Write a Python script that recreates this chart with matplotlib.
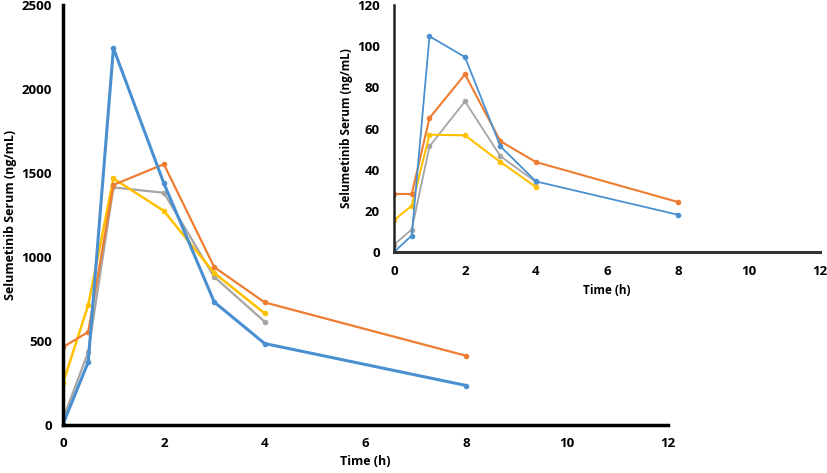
import matplotlib.pyplot as plt

time = [0, 0.5, 1, 2, 3, 4, 8]
time_short = [0, 0.5, 1, 2, 3, 4]

# main panel (ng/mL)
blue_main = [5, 375, 2244, 1440, 732, 485, 235]
orange_main = [464, 554, 1430, 1553, 940, 730, 412]
gray_main = [35, 435, 1415, 1383, 882, 615]
yellow_main = [250, 714, 1468, 1275, 905, 665]

# inset panel (ng/mL)
blue_ins = [0, 8, 104.8, 94.7, 51.3, 34.3, 18.1]
orange_ins = [28.2, 28.2, 65.1, 86.3, 53.8, 43.7, 24.3]
gray_ins = [3.6, 10.9, 51.3, 73.2, 46.5, 34]
yellow_ins = [15.4, 22.5, 57, 56.7, 43.7, 31.6]

c_blue = "#4a90d0"
c_orange = "#ed7d31"
c_gray = "#a5a5a5"
c_yellow = "#ffc000"

plt.rcParams['font.family'] = ['Open Sans', 'DejaVu Sans']

fig = plt.figure(figsize=(8.27, 4.73), dpi=100)

ax = fig.add_axes([0.0762, 0.1015, 0.7315, 0.8875])
ax.plot(time_short, gray_main, color=c_gray, lw=1.6, marker="o", ms=3)
ax.plot(time_short, yellow_main, color=c_yellow, lw=1.8, marker="o", ms=3)
ax.plot(time, orange_main, color=c_orange, lw=1.6, marker="o", ms=3)
ax.plot(time, blue_main, color=c_blue, lw=2.2, marker="o", ms=3)
ax.set_xlim(0, 12)
ax.set_ylim(0, 2500)
ax.set_xticks(range(0, 13, 2))
ax.set_yticks(range(0, 2501, 500))
for s in ["top", "right"]:
    ax.spines[s].set_visible(False)
for s in ["left", "bottom"]:
    ax.spines[s].set_linewidth(2.5)
    ax.spines[s].set_color("black")
ax.tick_params(axis="x", length=0, labelsize=9.5, pad=9)
ax.tick_params(axis="y", length=0, labelsize=9.5, pad=8)
for lab in ax.get_xticklabels() + ax.get_yticklabels():
    lab.set_fontweight("bold")
ax.set_xlabel("Time (h)", fontsize=9, fontweight="bold", labelpad=3)
ax.set_ylabel("Selumetinib Serum (ng/mL)", fontsize=9, fontweight="bold", labelpad=3)

ins = fig.add_axes([0.4764, 0.4672, 0.5151, 0.5222])
ins.set_facecolor("none")
ins.plot(time_short, gray_ins, color=c_gray, lw=1.3, marker="o", ms=3)
ins.plot(time_short, yellow_ins, color=c_yellow, lw=1.5, marker="o", ms=3)
ins.plot(time, orange_ins, color=c_orange, lw=1.5, marker="o", ms=3)
ins.plot(time, blue_ins, color=c_blue, lw=1.3, marker="o", ms=3)
ins.set_xlim(0, 12)
ins.set_ylim(0, 120)
ins.set_xticks(range(0, 13, 2))
ins.set_yticks(range(0, 121, 20))
for s in ["top", "right"]:
    ins.spines[s].set_visible(False)
ins.spines["left"].set_linewidth(1.8)
ins.spines["left"].set_color("#222222")
ins.spines["bottom"].set_linewidth(2.2)
ins.spines["bottom"].set_color("#333333")
ins.tick_params(axis="x", length=0, labelsize=9.5, pad=9)
ins.tick_params(axis="y", length=0, labelsize=9.5, pad=10)
for lab in ins.get_xticklabels() + ins.get_yticklabels():
    lab.set_fontweight("bold")
ins.set_xlabel("Time (h)", fontsize=8.5, fontweight="bold", labelpad=5)
ins.set_ylabel("Selumetinib Serum (ng/mL)", fontsize=8.5, fontweight="bold", labelpad=3)

fig.savefig("out.png", dpi=100)
